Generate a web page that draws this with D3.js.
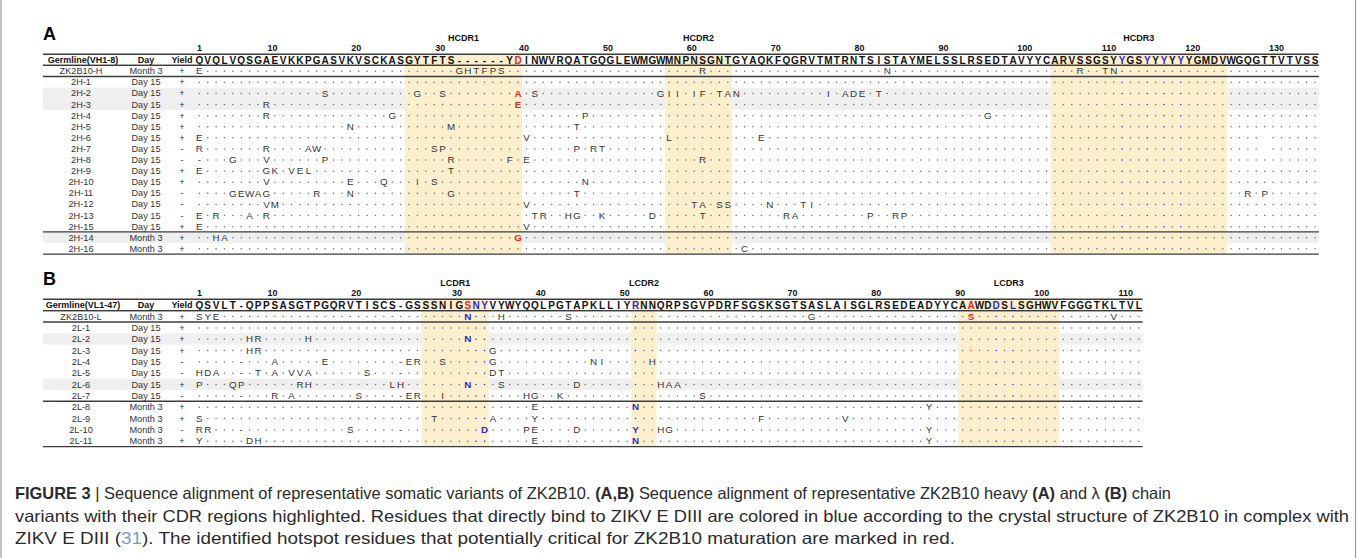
<!DOCTYPE html>
<html lang="en">
<head>
<meta charset="UTF-8">
<title>ZK2B10 somatic variants alignment</title>
<style>
  body { margin: 0; background: #fff; }
  svg { display: block; font-family: "Liberation Sans", Arial, Helvetica, sans-serif; }
</style>
</head>
<body>
<svg width="1358" height="558"></svg>
<script src="https://d3js.org/d3.v7.min.js"></script>
<script>
// ---- panel A: heavy chain ----
const heavyGermline = "QVQLVQSGAEVKKPGASVKVSCKASGYTFTS------YDINWVRQATGQGLEWMGWMNPNSGNTGYAQKFQGRVTMTRNTSISTAYMELSSLRSEDTAVYYCARVSSGSYYGSYYYYYYGMDVWGQGTTVTVSS";
const heavyRed = [39];
const heavyBlue = [111, 114, 116, 118];
const heavyTickLabels = [1, 10, 20, 30, 40, 50, 60, 70, 80, 90, 100, 110, 120, 130];
const heavyTickCols = [1, 10, 20, 30, 40, 50, 60, 70, 80, 90, 100, 110, 120, 130];
const heavyCdrNames = ["HCDR1", "HCDR2", "HCDR3"];
const heavyCdrStart = [26, 57, 103];
const heavyCdrEnd = [39, 64, 123];
const heavyRows = ["ZK2B10-H", "2H-1", "2H-2", "2H-3", "2H-4", "2H-5", "2H-6", "2H-7", "2H-8",
  "2H-9", "2H-10", "2H-11", "2H-12", "2H-13", "2H-15", "2H-14", "2H-16"];
const heavyDays = ["Month 3", "Day 15", "Day 15", "Day 15", "Day 15", "Day 15", "Day 15", "Day 15",
  "Day 15", "Day 15", "Day 15", "Day 15", "Day 15", "Day 15", "Day 15", "Month 3", "Month 3"];
const heavyYields = ["+", "+", "+", "+", "+", "+", "+", "-", "-", "+", "+", "-", "-", "-", "+", "+", "+"];
// "colAA" tokens, suffix r = red, b = blue, "_" = no read
const heavyMuts = [
  "1E 32G 33H 34T 35F 36P 37S 61R 83N 106R 109T 110N",
  "",
  "16S 27G 30S 39Ar 41S 56G 57I 58I 60I 61F 63T 64A 65N 76I 78A 79D 80E 82T",
  "9R 39Er",
  "9R 24G 47P 95G",
  "19N 31M 46T",
  "1E 40V 57L 68E 128_",
  "1R 9R 14A 15W 29S 30P 46P 48R 49T 128_",
  "1- 5G 9V 16P 31R 38F 40E 61R",
  "1E 9G 10K 12V 13E 14L 31T",
  "9V 19E 23Q 27I 29S 47N",
  "5G 6E 7W 8A 9G 15R 19N 31G 46T 126R 128P",
  "9V 10M 40V 60T 61A 63S 64S 69N 73T 74I",
  "1E 3R 7A 9R 41T 42R 45H 46G 49K 55D 61T 71R 72A 81P 84R 85P",
  "1E 40V",
  "3H 4A 39Gr",
  "66C"
];
const heavyGroupStarts = [0, 1, 15];
const heavyShaded = ["2H-2", "2H-3", "2H-14"];

// ---- panel B: lambda chain ----
const lightGermline = "QSVLT-QPPSASGTPGQRVTISCS-GSSSNIGSNYVYWYQQLPGTAPKLLIYRNNQRPSGVPDRFSGSKSGTSASLAISGLRSEDEADYYCAAWDDSLSGHWVFGGGTKLTVL";
const lightRed = [33, 93];
const lightBlue = [34, 35, 53, 96, 98];
const lightTickLabels = [1, 10, 20, 30, 40, 50, 60, 70, 80, 90, 100, 110];
const lightTickCols = [1, 10, 20, 32, 42, 52, 62, 72, 82, 92, 102, 112];
const lightCdrNames = ["LCDR1", "LCDR2", "LCDR3"];
const lightCdrStart = [28, 53, 92];
const lightCdrEnd = [35, 55, 103];
const lightRows = ["ZK2B10-L", "2L-1", "2L-2", "2L-3", "2L-4", "2L-5", "2L-6", "2L-7",
  "2L-8", "2L-9", "2L-10", "2L-11"];
const lightDays = ["Month 3", "Day 15", "Day 15", "Day 15", "Day 15", "Day 15", "Day 15", "Day 15",
  "Month 3", "Month 3", "Month 3", "Month 3"];
const lightYields = ["+", "+", "+", "+", "-", "-", "+", "-", "+", "+", "-", "+"];
const lightMuts = [
  "1S 2Y 3E 33Nb 37H 45S 74G 93Sr 110V",
  "",
  "7H 8R 14H 33Nb",
  "7H 8R 36G",
  "6- 10A 16E 25- 26E 27R 30S 36G 48N 49I 55H",
  "1H 2D 3A 6- 8T 10A 12V 13V 14A 21S 25- 36D 37T",
  "1P 5Q 6P 13R 14H 24L 25H 33Nb 37S 46D 56H 57A 58A",
  "6- 10R 12A 20S 25- 26E 27R 30I 40H 41G 44K 61S",
  "41E 53Nb 88Y",
  "1S 29T 36A 41Y 68F 78V",
  "1R 2R 6- 19S 25- 35Db 40P 41E 46D 53Yb 56H 57G 88Y",
  "1Y 7D 8H 41E 53Nb 88Y"
];
const lightGroupStarts = [0, 1, 8];
const lightShaded = ["2L-2", "2L-6"];

const RED = "#e5262b", BLUE = "#2a2ad6", INK = "#333", LINE = "#3c3c3c";
const svg = d3.select("svg");
const colX = d3.scaleLinear().domain([1, 134]).range([199.3, 1315]);
const HALF = 4.2;

function parseMuts(s) {
  const out = new Map();
  s.split(" ").filter(Boolean).forEach(t => {
    const m = t.match(/^(\d+)(.)([rb]?)$/);
    out.set(+m[1], {aa: m[2], tone: m[3]});
  });
  return out;
}

function drawPanel(p) {
  const g = svg.append("g");
  const n = p.rows.length;
  const ncol = p.germline.length;
  const y = d3.scaleLinear().domain([0, 1]).range([p.top, p.top + p.step]);
  const slot = i => i + 1.5;
  const left = 43, right = colX(ncol) + 3.8;
  const colColor = c => p.red.includes(c) ? RED : p.blue.includes(c) ? BLUE : null;

  // shaded rows
  g.selectAll("rect.shade")
    .data(p.rows.map((r, i) => ({r, i})).filter(d => p.shaded.includes(d.r)))
    .join("rect").attr("class", "shade")
    .attr("x", left).attr("width", right - left)
    .attr("y", d => y(slot(d.i) - 0.5)).attr("height", y(1) - y(0))
    .attr("fill", "#efefef");

  // CDR boxes
  const cdrs = p.cdrNames.map((name, k) => ({name, s: p.cdrStart[k], e: p.cdrEnd[k]}));
  g.selectAll("rect.cdr").data(cdrs).join("rect").attr("class", "cdr")
    .attr("x", d => colX(d.s) - HALF)
    .attr("width", d => colX(d.e) - colX(d.s) + 2 * HALF)
    .attr("y", y(0)).attr("height", y(n + 1) - y(0))
    .attr("fill", "#fcefcd");
  g.selectAll("text.cdr").data(cdrs).join("text").attr("class", "cdr")
    .attr("x", d => (colX(d.s) + colX(d.e)) / 2).attr("y", p.top - 13.5)
    .attr("text-anchor", "middle").attr("font-size", 9).attr("font-weight", "bold")
    .attr("fill", "#111").text(d => d.name);

  // panel letter
  g.append("text").attr("x", 43).attr("y", p.top - 14).attr("font-size", 18)
    .attr("font-weight", "bold").attr("fill", "#000").text(p.letter);

  // position ticks
  g.selectAll("text.tick").data(p.tickLabels.map((l, k) => ({l, c: p.tickCols[k]})))
    .join("text").attr("class", "tick")
    .attr("x", d => colX(d.c) + 2.6).attr("y", p.top - 3)
    .attr("text-anchor", "end").attr("font-size", 9).attr("font-weight", "bold")
    .attr("fill", "#111").text(d => d.l);

  // header row
  const hy = y(0.5) + 3.4;
  const head = g.append("g").attr("font-size", 9).attr("font-weight", "bold").attr("fill", "#111");
  head.append("text").attr("x", 83).attr("y", hy).attr("text-anchor", "middle").text(p.title);
  head.append("text").attr("x", 146).attr("y", hy).attr("text-anchor", "middle").text("Day");
  head.append("text").attr("x", 182).attr("y", hy).attr("text-anchor", "middle").text("Yield");
  g.append("g").selectAll("text").data(p.germline.split("").map((aa, k) => ({aa, c: k + 1})))
    .join("text")
    .attr("x", d => colX(d.c)).attr("y", hy + 0.4)
    .attr("text-anchor", "middle").attr("font-size", 10).attr("font-weight", "bold")
    .attr("fill", d => colColor(d.c) || "#111").text(d => d.aa);

  // variant rows
  p.rows.forEach((name, i) => {
    const cy = y(slot(i));
    const rg = g.append("g");
    const muts = parseMuts(p.muts[i]);
    rg.append("text").attr("x", 81).attr("y", cy + 3.3).attr("text-anchor", "middle")
      .attr("font-size", 9.2).attr("fill", INK).text(name);
    rg.append("text").attr("x", 146).attr("y", cy + 3.3).attr("text-anchor", "middle")
      .attr("font-size", 9.2).attr("fill", INK).text(p.days[i]);
    rg.append("text").attr("x", 182).attr("y", cy + 3.3).attr("text-anchor", "middle")
      .attr("font-size", 9.2).attr("fill", INK).text(p.yields[i]);

    const cols = d3.range(1, ncol + 1);
    rg.selectAll("circle").data(cols.filter(c => !muts.has(c)))
      .join("circle").attr("cx", d => colX(d)).attr("cy", cy + 0.3).attr("r", 0.75)
      .attr("fill", d => colColor(d) || "#6a6a6a");
    rg.selectAll("text.aa")
      .data(Array.from(muts, ([c, v]) => ({c, ...v})).filter(d => d.aa !== "_"))
      .join("text").attr("class", "aa")
      .attr("x", d => colX(d.c)).attr("y", cy + 3.5).attr("text-anchor", "middle")
      .attr("font-size", 9.8)
      .attr("font-weight", d => d.tone ? "bold" : "normal")
      .attr("fill", d => d.tone === "r" ? RED : d.tone === "b" ? BLUE : INK)
      .text(d => d.aa);
  });

  // rules
  const rules = [0, 1, n + 1].concat(p.groupStarts.map(s => s + 1));
  g.selectAll("line.rule").data(rules).join("line").attr("class", "rule")
    .attr("x1", left).attr("x2", right)
    .attr("y1", d => y(d)).attr("y2", d => y(d))
    .attr("stroke", LINE).attr("stroke-width", 1.4);
}

drawPanel({letter: "A", title: "Germline(VH1-8)", top: 54.3, step: 11.1,
  germline: heavyGermline, red: heavyRed, blue: heavyBlue,
  tickLabels: heavyTickLabels, tickCols: heavyTickCols,
  cdrNames: heavyCdrNames, cdrStart: heavyCdrStart, cdrEnd: heavyCdrEnd,
  rows: heavyRows, days: heavyDays, yields: heavyYields, muts: heavyMuts,
  groupStarts: heavyGroupStarts, shaded: heavyShaded});

drawPanel({letter: "B", title: "Germline(VL1-47)", top: 299.3, step: 11.33,
  germline: lightGermline, red: lightRed, blue: lightBlue,
  tickLabels: lightTickLabels, tickCols: lightTickCols,
  cdrNames: lightCdrNames, cdrStart: lightCdrStart, cdrEnd: lightCdrEnd,
  rows: lightRows, days: lightDays, yields: lightYields, muts: lightMuts,
  groupStarts: lightGroupStarts, shaded: lightShaded});

// frame
svg.append("g").selectAll("line").data([1, 1355.5]).join("line")
  .attr("x1", d => d).attr("x2", d => d).attr("y1", 0).attr("y2", 558)
  .attr("stroke", "#9a9a9a").attr("stroke-width", 1.2);

// caption
const captionLines = [
  [["FIGURE 3", "b"], [" | Sequence alignment of representative somatic variants of ZK2B10. "], ["(A,B)", "b"],
   [" Sequence alignment of representative ZK2B10 heavy "], ["(A)", "b"], [" and λ "], ["(B)", "b"], [" chain"]],
  [["variants with their CDR regions highlighted. Residues that directly bind to ZIKV E DIII are colored in blue according to the crystal structure of ZK2B10 in complex with"]],
  [["ZIKV E DIII ("], ["31", "l"], ["). The identified hotspot residues that potentially critical for ZK2B10 maturation are marked in red."]]
];
const captionEnds = [1171, 1349, 955];
const captionBase = [498.5, 522, 543.5];
captionLines.forEach((parts, k) => {
  const t = svg.append("text").attr("x", 15).attr("y", captionBase[k])
    .attr("font-size", 16.5).attr("fill", "#2b2b2b")
    .attr("textLength", captionEnds[k] - 15).attr("lengthAdjust", "spacingAndGlyphs");
  parts.forEach(([s, f]) => {
    t.append("tspan").attr("font-weight", f === "b" ? "bold" : "normal")
      .attr("fill", f === "l" ? "#7d9cbf" : null).text(s);
  });
});
</script>
</body>
</html>
